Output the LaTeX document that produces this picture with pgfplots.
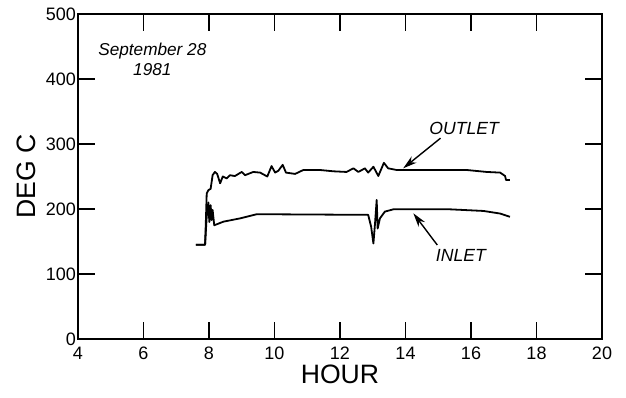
\documentclass[border=0pt]{standalone}
\usepackage{fontspec}
\setmainfont{Liberation Sans}
\usepackage{pgfplots}
\pgfplotsset{compat=1.18}
\usetikzlibrary{arrows.meta}

\begin{document}
\begin{tikzpicture}
\begin{axis}[
  scale only axis,
  width=262pt, height=162.5pt,
  xmin=4, xmax=20, ymin=0, ymax=500,
  xtick={4,6,...,20}, ytick={0,100,...,500},
  tick align=inside,
  major tick length=8.5pt,
  axis line style={line width=1pt},
  every tick/.style={line width=0.8pt, black},
  /pgf/number format/assume math mode=true,
  ticklabel style={font=\fontsize{9}{10}\selectfont},
  yticklabel style={xshift=2.5pt},
  xticklabel style={yshift=-0.5pt},
  xlabel={HOUR}, ylabel={DEG C},
  label style={font=\fontsize{13.3}{15}\selectfont},
  xlabel style={yshift=4.5pt},
  ylabel style={yshift=-2pt},
  clip=false,
]
\coordinate (ll) at (rel axis cs:0,0);
\coordinate (ur) at (rel axis cs:1,1);

% outlet temperature
\addplot[black, line width=0.9pt, line join=round] coordinates {
(7.60,145) (7.88,145) (7.91,190) (7.93,224) (7.98,229) (8.05,231)
(8.11,252) (8.18,257) (8.25,254) (8.34,239.5) (8.42,250) (8.54,247)
(8.64,252) (8.79,250.7) (9.00,257) (9.10,252) (9.35,257) (9.56,256)
(9.78,250) (9.91,266) (10.02,256) (10.12,259) (10.25,268) (10.35,256)
(10.63,254) (10.88,260) (11.39,260) (11.80,258) (12.20,257) (12.41,262.6)
(12.56,257) (12.76,262.6) (12.86,256) (13.02,265) (13.17,250.8) (13.34,271)
(13.47,262.6) (13.73,260) (14.85,260) (15.87,260) (16.48,257) (16.89,256)
(17.04,250.8) (17.07,244.6) (17.19,244.6)
};

% inlet temperature
\addplot[black, line width=0.9pt, line join=round] coordinates {
(7.60,145) (7.88,145) (7.93,188) (7.98,210) (8.01,180) (8.05,206)
(8.08,183) (8.11,198.5) (8.16,175) (8.44,180.5) (8.95,185.6) (9.46,192)
(12.86,191) (12.95,173) (13.02,147) (13.07,178) (13.12,214) (13.15,170)
(13.22,185.6) (13.37,196) (13.63,199.5) (14.34,199.5) (15.36,199.5)
(16.38,197) (16.89,193) (17.19,188)
};

% annotations
\node[font=\itshape\fontsize{8.6}{10}\selectfont, align=center] at (axis cs:6.27,430)
  {September 28\\1981};
\node[font=\itshape\fontsize{8.8}{10}\selectfont] at (axis cs:15.79,324.6) {OUTLET};
\node[font=\itshape\fontsize{8.8}{10}\selectfont] at (axis cs:15.69,129.2) {INLET};
\draw[line width=0.7pt, -{Stealth[length=7pt,width=4pt]}]
  (axis cs:15.07,309) -- (axis cs:13.93,262.6);
\draw[line width=0.7pt, -{Stealth[length=7pt,width=4pt]}]
  (axis cs:14.97,144.6) -- (axis cs:14.24,193.4);
\end{axis}
\pgfresetboundingbox
\path[use as bounding box] ([xshift=-39pt,yshift=-29pt]ll) rectangle ([xshift=12pt,yshift=7pt]ur);
\end{tikzpicture}
\end{document}
